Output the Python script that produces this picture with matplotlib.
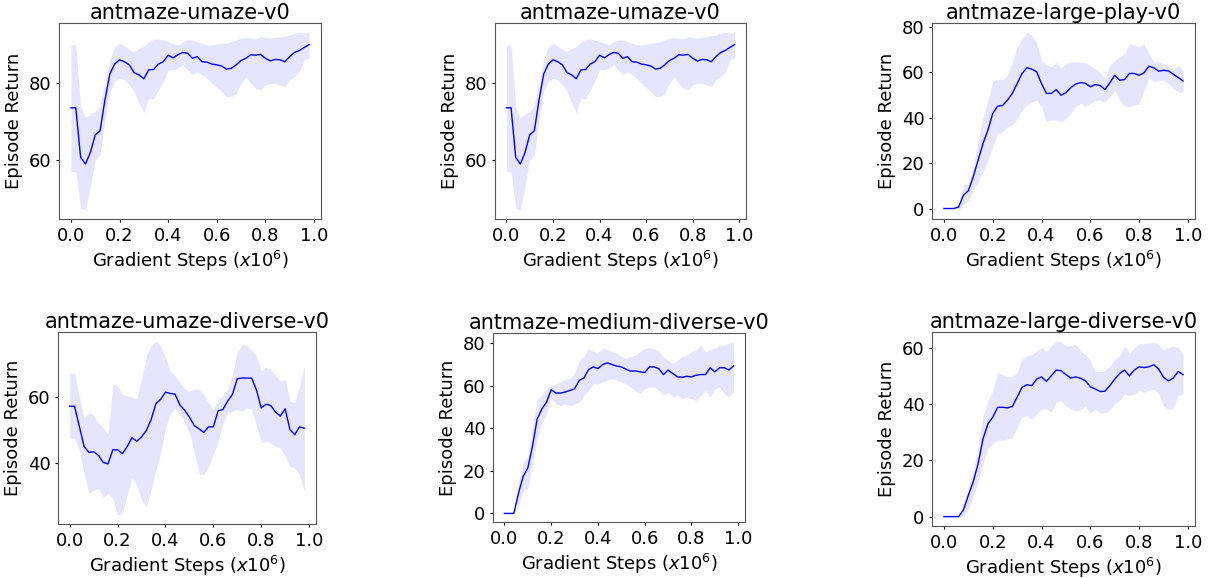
import numpy as np
import matplotlib
matplotlib.use('Agg')
import matplotlib.pyplot as plt

steps = np.arange(50) * 0.02

# antmaze-umaze-v0
umaze_mean = [73.5, 73.5, 60.7, 59.0, 62.0, 66.5, 67.6, 75.5, 82.2, 84.8,
              85.9, 85.4, 84.6, 82.6, 82.0, 81.0, 83.3, 83.4, 84.8, 85.4,
              87.1, 86.4, 87.2, 87.8, 87.6, 86.3, 86.7, 85.4, 85.3, 84.8,
              84.6, 84.3, 83.5, 83.7, 84.6, 85.7, 86.3, 87.2, 87.1, 87.3,
              86.3, 85.6, 86.0, 85.9, 85.4, 86.7, 87.8, 88.3, 89.1, 89.8]
umaze_hi = [89.7, 89.7, 73.8, 71.0, 72.0, 72.5, 74.2, 79.8, 85.9, 89.3,
            90.2, 89.5, 88.6, 88.0, 88.9, 89.3, 90.6, 91.2, 91.3, 91.0,
            90.6, 90.2, 89.7, 90.6, 91.0, 91.0, 90.6, 90.2, 89.7, 89.7,
            90.0, 90.2, 90.3, 90.6, 91.0, 91.5, 91.7, 91.5, 91.3, 91.9,
            91.7, 91.5, 91.7, 91.9, 92.1, 92.3, 92.8, 93.0, 92.8, 93.1]
umaze_lo = [57.0, 57.0, 47.5, 47.1, 53.1, 60.0, 61.3, 70.3, 77.7, 80.3,
            81.1, 80.7, 79.4, 77.7, 74.7, 72.2, 76.0, 75.7, 78.1, 80.3,
            83.3, 83.3, 83.7, 84.6, 83.3, 82.0, 82.8, 82.0, 81.1, 79.8,
            78.8, 77.7, 76.4, 76.4, 77.2, 79.8, 81.6, 79.8, 78.5, 78.1,
            79.4, 79.8, 79.8, 79.4, 79.0, 80.7, 81.6, 82.8, 85.9, 86.3]

# antmaze-large-play-v0
lplay_mean = [0, 0, 0, 0.7, 5.9, 7.8, 14.0, 21.3, 28.6, 34.5,
              41.9, 45.1, 45.4, 47.7, 50.7, 55.0, 59.5, 62.0, 61.4, 60.2,
              55.0, 50.7, 50.7, 52.4, 49.9, 51.0, 53.3, 54.8, 55.5, 55.1,
              53.6, 54.6, 54.2, 52.4, 55.4, 58.7, 56.5, 56.8, 59.5, 59.5,
              58.7, 59.8, 62.7, 62.0, 60.5, 60.9, 60.6, 59.2, 57.7, 56.2]
lplay_hi = [0, 0, 0, 1.5, 10.3, 11.0, 18.4, 30.0, 40.4, 47.7,
            56.2, 56.8, 56.8, 58.7, 64.6, 71.2, 74.9, 77.8, 76.4, 72.7,
            65.3, 63.1, 62.4, 64.6, 61.7, 63.9, 64.6, 64.6, 64.6, 64.2,
            63.1, 61.7, 59.8, 57.3, 63.1, 65.3, 66.8, 68.3, 72.7, 72.0,
            71.2, 72.7, 68.3, 64.6, 64.6, 63.9, 62.4, 60.9, 63.1, 60.9]
lplay_lo = [0, 0, 0, -0.7, 1.5, 3.7, 8.1, 11.7, 16.2, 21.3,
            27.2, 33.0, 33.8, 36.0, 36.7, 39.6, 43.3, 45.5, 47.0, 47.7,
            44.8, 38.2, 38.9, 38.9, 38.2, 39.6, 41.9, 44.8, 46.3, 44.8,
            46.3, 47.7, 47.7, 47.0, 49.2, 52.1, 47.7, 45.1, 44.8, 45.5,
            46.3, 52.1, 58.0, 55.8, 56.5, 56.5, 55.1, 52.9, 51.4, 51.0]

# antmaze-umaze-diverse-v0
udiv_mean = [57.2, 57.2, 51.1, 44.9, 43.1, 43.3, 42.2, 40.0, 39.6, 43.9,
             43.9, 42.7, 44.9, 47.6, 46.5, 47.8, 49.8, 53.1, 58.0, 59.3,
             61.5, 61.1, 60.9, 57.6, 56.0, 53.9, 51.3, 50.3, 49.2, 50.9,
             50.9, 55.8, 56.2, 58.8, 60.8, 65.6, 65.8, 65.8, 65.8, 62.2,
             56.7, 57.8, 57.4, 55.4, 54.2, 56.4, 50.1, 48.5, 50.9, 50.5]
udiv_hi = [67.3, 67.3, 60.3, 53.6, 55.2, 54.4, 52.1, 50.6, 48.5, 63.9,
           63.4, 60.8, 60.3, 60.0, 59.5, 65.4, 72.6, 75.7, 77.2, 75.7,
           72.1, 68.0, 66.5, 64.4, 62.6, 61.8, 62.4, 62.4, 60.8, 58.3,
           56.2, 59.3, 60.3, 62.4, 67.0, 73.6, 76.2, 75.7, 74.2, 72.6,
           68.0, 69.0, 68.5, 66.5, 64.9, 65.4, 58.8, 58.3, 63.4, 69.5]
udiv_lo = [47.5, 47.5, 43.9, 36.7, 30.6, 31.6, 32.1, 29.5, 30.6, 29.0,
           23.9, 24.4, 30.0, 35.2, 33.1, 28.5, 26.5, 31.6, 37.7, 42.9,
           50.6, 54.7, 56.7, 54.7, 52.1, 49.0, 43.4, 36.7, 36.2, 38.8,
           42.4, 46.5, 52.1, 55.2, 55.7, 56.2, 55.7, 56.7, 56.2, 51.1,
           46.0, 46.5, 46.0, 44.9, 44.4, 41.8, 38.8, 38.3, 36.2, 31.1]

# antmaze-medium-diverse-v0
mdiv_mean = [0, 0, 0, 9.5, 17.4, 21.4, 31.7, 44.4, 49.1, 52.3,
             58.2, 56.6, 56.6, 57.1, 57.8, 58.6, 62.6, 63.7, 67.7, 68.9,
             68.1, 70.0, 70.8, 70.0, 69.3, 68.9, 67.8, 66.9, 67.0, 66.6,
             66.2, 68.9, 68.9, 68.1, 65.3, 67.4, 65.8, 64.2, 64.0, 64.5,
             64.2, 65.0, 65.3, 65.3, 68.5, 66.6, 68.5, 68.5, 67.4, 69.4]
mdiv_hi = [0, 0, 0.3, 15.0, 23.8, 26.9, 41.2, 53.9, 55.5, 58.6,
           59.9, 61.0, 61.8, 63.1, 63.4, 65.8, 72.1, 73.7, 77.7, 76.1,
           75.3, 77.7, 76.9, 76.1, 75.3, 73.7, 72.9, 73.7, 74.5, 76.1,
           77.7, 78.0, 77.7, 76.1, 73.7, 72.1, 70.5, 72.1, 73.7, 74.5,
           76.1, 76.9, 79.2, 76.1, 76.9, 77.7, 79.2, 79.2, 80.0, 80.8]
mdiv_lo = [0, 0, 0, 4.0, 10.3, 11.9, 23.0, 34.9, 42.0, 46.8,
           54.7, 51.5, 50.7, 51.5, 50.7, 51.5, 52.3, 55.5, 57.8, 61.0,
           61.0, 61.8, 62.6, 63.4, 62.6, 61.8, 61.0, 59.4, 57.8, 56.3,
           58.6, 59.4, 59.4, 57.8, 55.5, 57.1, 54.7, 55.5, 53.9, 54.7,
           53.9, 53.1, 55.5, 57.8, 54.7, 58.6, 59.4, 56.3, 54.7, 57.1]

# antmaze-large-diverse-v0
ldiv_mean = [0, 0, 0, 0, 2.4, 7.6, 12.4, 18.8, 27.6, 32.9,
             35.3, 38.8, 38.8, 38.6, 39.1, 42.4, 45.9, 46.8, 46.5, 48.8,
             49.6, 48.0, 50.0, 52.0, 51.8, 50.4, 49.2, 49.6, 49.1, 48.2,
             46.1, 45.3, 44.4, 44.5, 46.5, 48.8, 50.8, 52.0, 50.0, 52.0,
             53.2, 52.9, 53.2, 53.9, 52.4, 49.4, 48.2, 49.2, 51.5, 50.4]
ldiv_hi = [0, 0, 0, 0.2, 4.7, 10.6, 16.5, 24.7, 35.9, 41.2,
           44.7, 51.2, 50.6, 49.6, 49.6, 51.2, 55.9, 57.1, 57.6, 58.8,
           60.0, 58.6, 60.6, 62.4, 62.1, 60.6, 60.6, 61.2, 58.8, 57.6,
           55.3, 51.5, 51.5, 51.8, 53.5, 55.9, 57.1, 60.6, 58.2, 60.0,
           61.4, 61.4, 61.6, 61.8, 61.2, 59.1, 60.0, 60.6, 60.0, 57.6]
ldiv_lo = [0, 0, 0, -0.2, 0, 2.9, 7.1, 12.4, 18.8, 24.1,
           25.9, 27.1, 27.1, 27.6, 28.0, 31.8, 35.3, 35.9, 34.4, 36.5,
           38.2, 38.2, 37.1, 40.6, 41.2, 39.1, 38.2, 37.4, 37.9, 39.1,
           36.7, 38.2, 36.7, 36.7, 37.9, 40.0, 41.2, 43.5, 42.9, 43.5,
           44.7, 44.1, 44.9, 45.3, 43.5, 39.4, 37.9, 38.6, 42.9, 43.5]

titles = ['antmaze-umaze-v0', 'antmaze-umaze-v0', 'antmaze-large-play-v0',
          'antmaze-umaze-diverse-v0', 'antmaze-medium-diverse-v0', 'antmaze-large-diverse-v0']
series = [(umaze_mean, umaze_lo, umaze_hi),
          (umaze_mean, umaze_lo, umaze_hi),
          (lplay_mean, lplay_lo, lplay_hi),
          (udiv_mean, udiv_lo, udiv_hi),
          (mdiv_mean, mdiv_lo, mdiv_hi),
          (ldiv_mean, ldiv_lo, ldiv_hi)]

W, H = 1220, 578
# axes boxes in pixels: left, top, right, bottom
boxes = [(59, 23, 321, 219), (495, 23, 746, 219), (932, 23, 1195, 219),
         (58, 332, 316, 524), (493, 333, 745, 522), (932, 332, 1195, 526)]

fig = plt.figure(figsize=(W / 100, H / 100), dpi=100)

for i in range(6):
    l, t, r, b = boxes[i]
    ax = fig.add_axes([l / W, 1 - b / H, (r - l) / W, (b - t) / H])
    mean, lo, hi = series[i]
    ax.fill_between(steps, lo, hi, color='blue', alpha=0.1, linewidth=0)
    ax.plot(steps, mean, color='blue', linewidth=1)
    ax.set_title(titles[i], fontsize=15, pad=3)
    ax.set_xlabel('Gradient Steps ($x10^6$)', fontsize=13, labelpad=3)
    ax.set_ylabel('Episode Return', fontsize=13, labelpad=4)
    ax.set_xticks([0, 0.2, 0.4, 0.6, 0.8, 1.0])
    ax.tick_params(labelsize=13, length=2.5, pad=3)
    for s in ax.spines.values():
        s.set_color('#555555')

fig.savefig('out.png', dpi=100)
